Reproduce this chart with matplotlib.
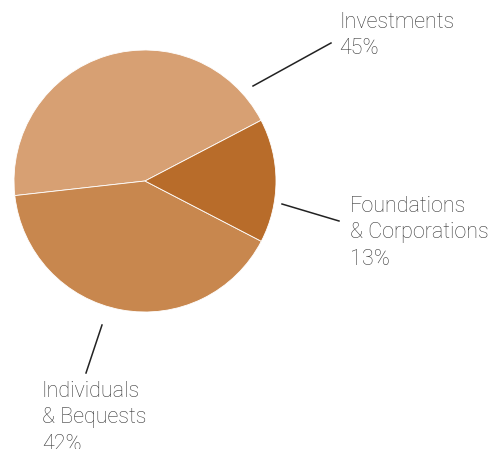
import matplotlib.pyplot as plt
from matplotlib.patches import Wedge

# ---------------- Data ---------------- #
# wedge shares (degrees of arc), labels as printed
categories = ["Investments", "Individuals\n& Bequests", "Foundations\n& Corporations"]
shares = [158.8, 146.2, 55.0]
pct_labels = ["45%", "42%", "13%"]
colors = ["#D7A073", "#C8874E", "#B86C2A"]

W, H = 489, 449

fig = plt.figure(figsize=(W / 100, H / 100), dpi=100)
ax = fig.add_axes([0, 0, 1, 1])
ax.set_xlim(0, W)
ax.set_ylim(0, H)
ax.axis("off")

# pixel coords (y from top) -> data coords
def px(x, y):
    return x, H - y

cx, cy = px(145, 181)
r = 131
start = 27.6
total = sum(shares)
theta = start
for val, col in zip(shares, colors):
    span = val / total * 360
    ax.add_patch(Wedge((cx, cy), r, theta, theta + span, facecolor=col,
                       edgecolor="white", linewidth=0.6))
    theta += span

# leader lines
lines = [((253, 86), (331, 43)), ((102, 325), (86, 373)), ((282, 204), (339, 221))]
for a, b in lines:
    x0, y0 = px(*a)
    x1, y1 = px(*b)
    ax.plot([x0, x1], [y0, y1], color="#222222", linewidth=1.1)

# labels
text_pos = [(339, 12), (42, 381), (350, 196)]
font = dict(family=["Roboto", "DejaVu Sans"], fontweight="light", fontsize=15.5,
            color="#3a3a3a", va="top", ha="left", linespacing=1.34)
for cat, pct, (tx, ty) in zip(categories, pct_labels, text_pos):
    x, y = px(tx, ty)
    ax.text(x, y, cat + "\n" + pct, **font)

fig.savefig("out.png", dpi=100)
